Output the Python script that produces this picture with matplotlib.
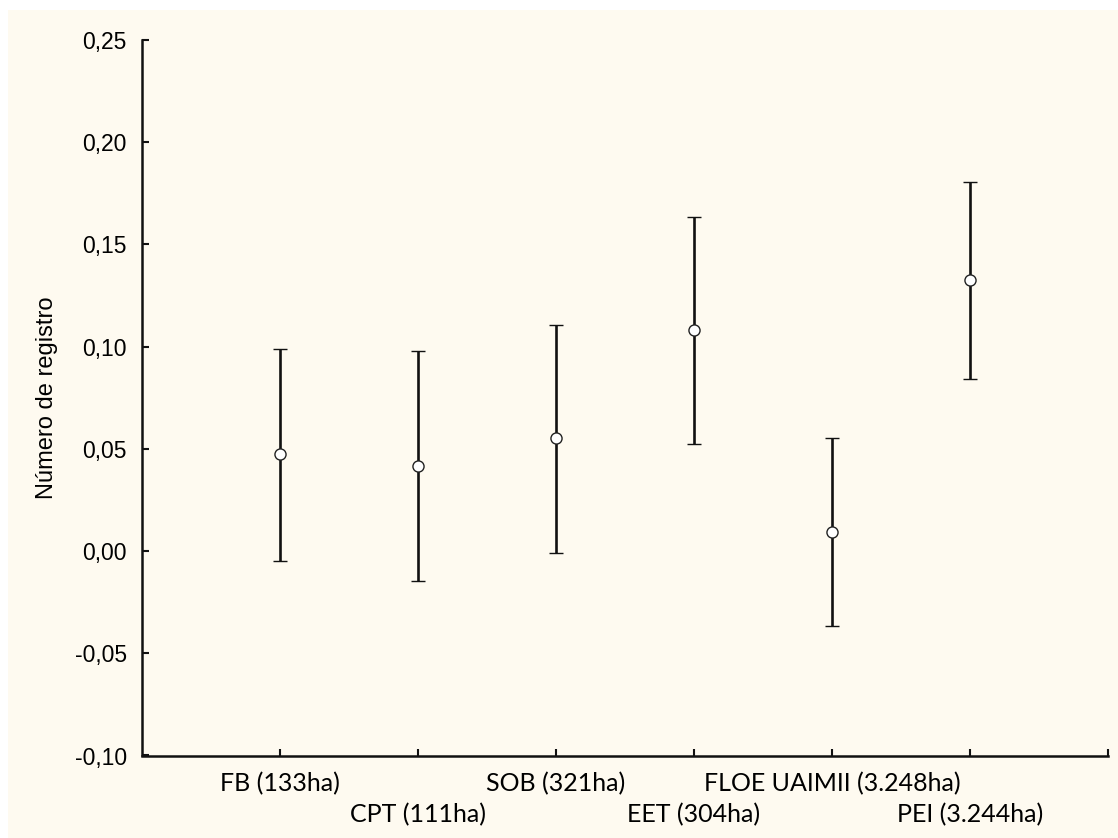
import matplotlib
matplotlib.use("Agg")
import matplotlib.pyplot as plt
from matplotlib.patches import Rectangle

categories = ["FB (133ha)", "CPT (111ha)", "SOB (321ha)", "EET (304ha)",
              "FLOE UAIMII (3.248ha)", "PEI (3.244ha)"]
means = [0.0475, 0.0416, 0.0553, 0.1081, 0.0093, 0.1327]
upper = [0.0987, 0.0978, 0.1106, 0.1634, 0.0551, 0.1807]
lower = [-0.0049, -0.0147, -0.0011, 0.0523, -0.0367, 0.0841]
yticks = [-0.10, -0.05, 0.00, 0.05, 0.10, 0.15, 0.20, 0.25]
ytick_labels = ["-0,10", "-0,05", "0,00", "0,05", "0,10", "0,15", "0,20", "0,25"]
ylabel = "Número de registro"

W, H = 1118, 838
fig = plt.figure(figsize=(W / 100, H / 100), dpi=100, facecolor="white")
bg = "#FEFAF0"
fig.patches.append(Rectangle((8 / W, 0), 1 - 8 / W, 1 - 10 / H,
                             transform=fig.transFigure, facecolor=bg,
                             edgecolor="none", zorder=-10))

left, right, top, bottom = 142, 1108, 40, 755.5
ax = fig.add_axes([left / W, 1 - bottom / H, (right - left) / W, (bottom - top) / H])
ax.set_facecolor(bg)
ax.patch.set_alpha(0)

x = list(range(1, len(categories) + 1))
yerr_low = [m - l for m, l in zip(means, lower)]
yerr_up = [u - m for m, u in zip(means, upper)]
ax.errorbar(x, means, yerr=[yerr_low, yerr_up], fmt="o", color="black",
            ecolor="#111111", elinewidth=1.9, capsize=5, capthick=1.9,
            markersize=8, markerfacecolor="white", markeredgecolor="#222222",
            markeredgewidth=1.0, zorder=3)

ax.set_xlim(0, 7)
ax.set_ylim(-0.10, 0.25)
ax.set_yticks(yticks)
ax.set_yticklabels(ytick_labels, family=["Liberation Sans", "DejaVu Sans"], fontsize=16.5)
ax.set_xticks(x + [7])
ax.set_xticklabels(categories + [""], family=["Lato", "DejaVu Sans"], fontsize=18)

for s in ["top", "right"]:
    ax.spines[s].set_visible(False)
for s in ["left", "bottom"]:
    ax.spines[s].set_linewidth(1.8)
    ax.spines[s].set_color("#111111")

ax.tick_params(axis="both", direction="in", length=5, width=1.5, color="#111111")
ax.tick_params(axis="y", pad=11)
for i, t in enumerate(ax.xaxis.get_major_ticks()):
    t.set_pad(12 if i % 2 == 0 else 34)

ax.set_ylabel(ylabel, family=["Liberation Sans", "DejaVu Sans"], fontsize=17, labelpad=12)

fig.savefig("out.png", dpi=100, facecolor=fig.get_facecolor())
